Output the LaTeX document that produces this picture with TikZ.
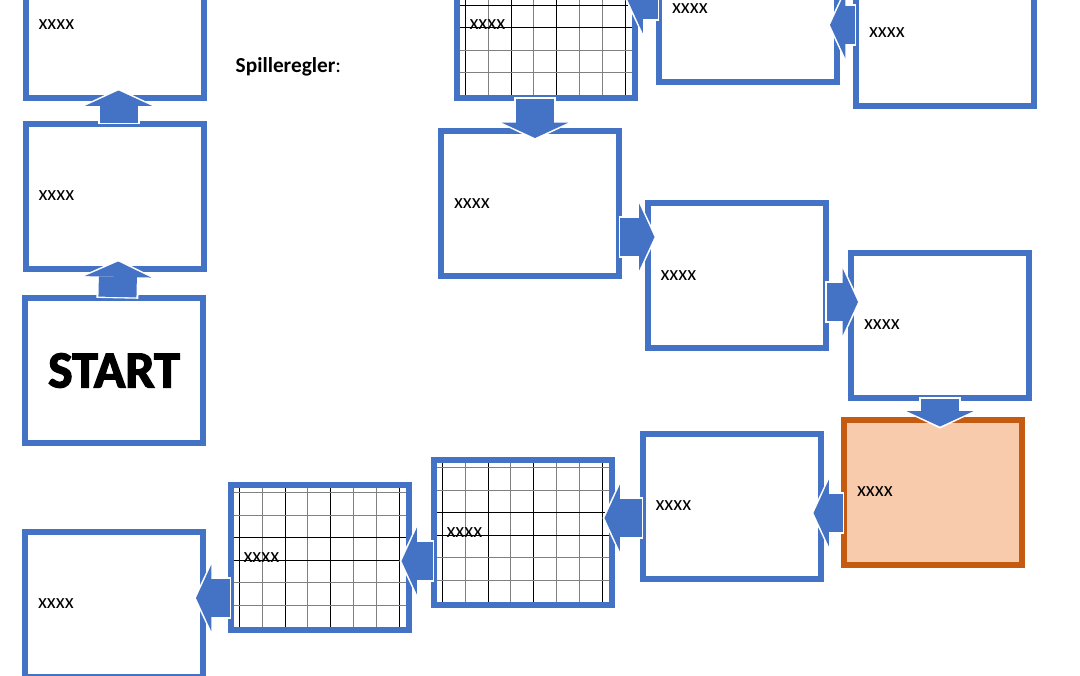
\documentclass[tikz,border=0pt]{standalone}
\usepackage{fontspec}
\setmainfont{Carlito}
\newfontfamily\startfont{Carlito}[FakeBold=2.5]
\usepackage{tikz}
\usetikzlibrary{arrows.meta,calc}
\definecolor{tileblue}{RGB}{68,114,196}
\definecolor{hotline}{RGB}{197,90,17}
\definecolor{hotfill}{RGB}{248,203,173}

\begin{document}
\begin{tikzpicture}[x=0.75pt,y=-0.75pt,line join=miter,
  tile/.style={draw=tileblue,line width=4.5pt,fill=white,minimum width=133.5pt,
    minimum height=108.75pt,text width=114pt,inner xsep=9.75pt,align=left,
    font=\fontsize{15.5}{18}\selectfont},
  hottile/.style={tile,draw=hotline,fill=hotfill},
  gridline/.style={line width=0.75pt},
  gridtile/.style={tile,path picture={
    \foreach \k/\c in {0/black,1/black!50,2/black,3/black!50,4/black,5/black!50,6/black!50,7/black}
      \draw[gridline,\c] ([xshift=6.75pt+\k*17.1pt]path picture bounding box.north west)
        -- ([xshift=6.75pt+\k*17.1pt]path picture bounding box.south west);
    \foreach \k/\c in {0/black!50,1/black!50,2/black,3/black,4/black!50,5/black!50,6/black}
      \draw[gridline,\c] ([yshift=-5.6pt-\k*16.95pt]path picture bounding box.north west)
        -- ([yshift=-5.6pt-\k*16.95pt]path picture bounding box.north east);}},
  flow/.style={draw=tileblue,line width=28.5pt,
    -{Triangle[width=50pt,length=11.5pt,line width=0pt]},
    shorten >=-7.5pt,shorten <=-1.5pt,
    preaction={draw=white,line width=31.5pt,
      -{Triangle[width=55pt,length=13pt,line width=0pt]},
      shorten >=-9pt,shorten <=-2.5pt}}]
  \useasboundingbox (0,0) rectangle (1080,675);

  \node[tile] (b1) at (114.5,25) {xxxx};
  \node[tile] (b2) at (114.5,196) {xxxx};
  \node[tile,align=center,font=\startfont\bfseries\fontsize{39}{42}\selectfont] (start) at (114,370.5) {START};
  \node[tile] (b4) at (114,604) {xxxx};
  \node[gridtile] (g1) at (545.5,25) {xxxx};
  \node[tile] (b6) at (748,9) {xxxx};
  \node[tile] (b7) at (945,33) {xxxx};
  \node[tile] (b8) at (530,203.5) {xxxx};
  \node[tile] (b9) at (736.5,275.5) {xxxx};
  \node[tile] (b10) at (940,325) {xxxx};
  \node[hottile] (hot) at (933,492) {xxxx};
  \node[tile] (b12) at (731.5,506) {xxxx};
  \node[gridtile] (g2) at (522.5,532.5) {xxxx};
  \node[gridtile] (g3) at (319.5,557.5) {xxxx};

  \node[anchor=west,font=\fontsize{16}{19}\selectfont] (rules) at (231,67) {\textbf{Spilleregler}:};

  \draw[flow] ($(start.north)+(3.5,0)$) -- ($(b2.south)+(3.5,0)$);
  \draw[flow] ($(b2.north)+(4,0)$) -- ($(b1.south)+(4,0)$);
  \draw[flow] ($(b7.west)+(0,-8)$) -- ($(b6.east)+(0,16)$);
  \draw[flow] ($(b6.west)+(0,-9)$) -- ($(g1.east)+(0,-25)$);
  \draw[flow] ($(g1.south)+(-10.5,0)$) -- ($(b8.north)+(5,0)$);
  \draw[flow] ($(b8.east)+(0,33.5)$) -- ($(b9.west)+(0,-38.5)$);
  \draw[flow] ($(b9.east)+(0,26.5)$) -- ($(b10.west)+(0,-23)$);
  \draw[flow] (b10.south) -- ($(hot.north)+(7,0)$);
  \draw[flow] ($(hot.west)+(0,21)$) -- ($(b12.east)+(0,7)$);
  \draw[flow] ($(b12.west)+(0,12)$) -- ($(g2.east)+(0,-14.5)$);
  \draw[flow] ($(g2.west)+(0,28.5)$) -- ($(g3.east)+(0,3.5)$);
  \draw[flow] ($(g3.west)+(0,40.5)$) -- ($(b4.east)+(0,-6)$);
\end{tikzpicture}
\end{document}
